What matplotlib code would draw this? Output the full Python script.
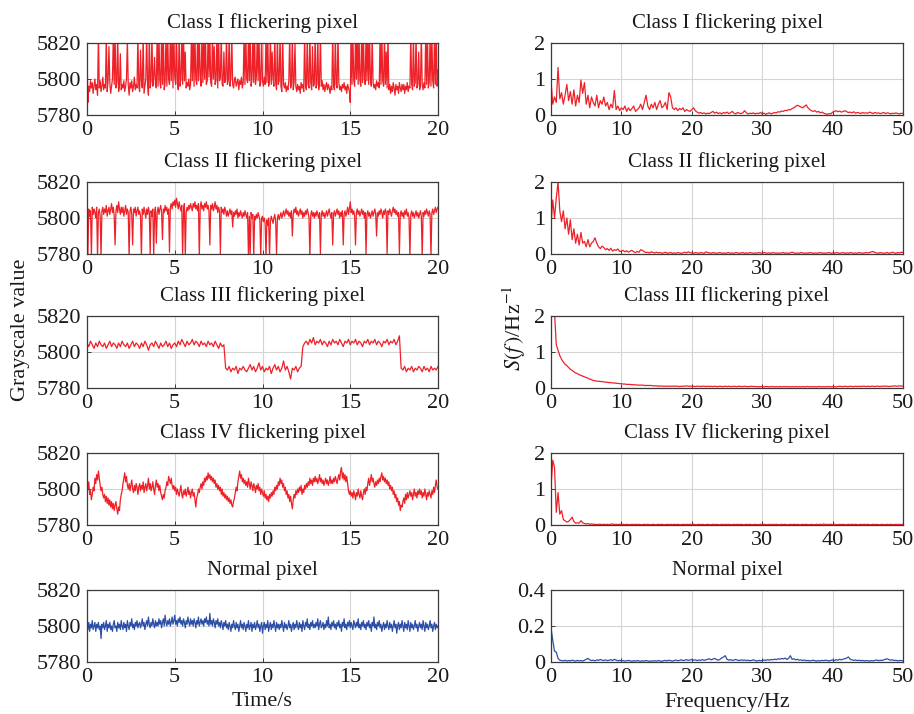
import numpy as np
import matplotlib
matplotlib.use('Agg')
import matplotlib.pyplot as plt

plt.rcParams['font.family'] = ['Liberation Serif', 'DejaVu Serif']
plt.rcParams['mathtext.fontset'] = 'stix'

# ---------------- data ----------------
titles = ["Class I flickering pixel", "Class II flickering pixel", "Class III flickering pixel",
          "Class IV flickering pixel", "Normal pixel"]

# grayscale samples, 0-20 s (one row per second)
time_class1 = [
    5815, 5787, 5796, 5793, 5799, 5795, 5798, 5792, 5796, 5800, 5794, 5797, 5791, 5825, 5795, 5799, 5793, 5796, 5801, 5794,
    5797, 5795, 5825, 5793, 5799, 5818, 5798, 5792, 5796, 5800, 5825, 5797, 5825, 5795, 5798, 5825, 5793, 5796, 5814, 5794,
    5797, 5795, 5799, 5793, 5796, 5800, 5822, 5797, 5791, 5798, 5795, 5799, 5793, 5796, 5801, 5794, 5797, 5795, 5825, 5796,
    5793, 5816, 5799, 5795, 5825, 5792, 5796, 5800, 5825, 5797, 5791, 5825, 5795, 5799, 5825, 5796, 5801, 5812, 5797, 5795,
    5825, 5796, 5825, 5799, 5795, 5825, 5797, 5825, 5794, 5798, 5825, 5796, 5825, 5800, 5797, 5825, 5799, 5825, 5795, 5825,
    5801, 5797, 5825, 5798, 5794, 5825, 5796, 5800, 5825, 5797, 5825, 5799, 5815, 5795, 5798, 5796, 5800, 5794, 5797, 5825,
    5799, 5825, 5796, 5825, 5800, 5797, 5825, 5799, 5825, 5801, 5796, 5825, 5798, 5825, 5800, 5825, 5797, 5799, 5825, 5801,
    5825, 5798, 5796, 5825, 5800, 5818, 5797, 5799, 5825, 5795, 5825, 5799, 5801, 5825, 5797, 5796, 5815, 5798, 5800, 5825,
    5797, 5799, 5825, 5796, 5801, 5825, 5797, 5795, 5799, 5801, 5796, 5798, 5800, 5794, 5799, 5797, 5801, 5795, 5798, 5825,
    5797, 5825, 5800, 5798, 5825, 5799, 5825, 5796, 5800, 5825, 5798, 5825, 5797, 5801, 5825, 5799, 5825, 5796, 5798, 5825,
    5799, 5796, 5801, 5797, 5825, 5798, 5825, 5796, 5799, 5825, 5797, 5815, 5800, 5796, 5825, 5798, 5794, 5825, 5797, 5799,
    5825, 5796, 5793, 5825, 5797, 5795, 5798, 5793, 5796, 5794, 5799, 5825, 5795, 5797, 5825, 5794, 5798, 5820, 5796, 5793,
    5797, 5794, 5796, 5792, 5798, 5795, 5797, 5793, 5825, 5796, 5794, 5825, 5797, 5795, 5825, 5798, 5794, 5818, 5796, 5797,
    5825, 5795, 5797, 5825, 5794, 5798, 5825, 5796, 5799, 5794, 5797, 5793, 5796, 5798, 5794, 5797, 5795, 5792, 5796, 5794,
    5825, 5796, 5794, 5825, 5797, 5795, 5825, 5798, 5794, 5796, 5793, 5797, 5795, 5798, 5794, 5796, 5792, 5797, 5795, 5793,
    5787, 5825, 5797, 5825, 5799, 5796, 5825, 5800, 5825, 5797, 5825, 5799, 5796, 5825, 5798, 5825, 5800, 5797, 5825, 5799,
    5825, 5797, 5825, 5800, 5796, 5825, 5798, 5795, 5797, 5794, 5799, 5796, 5798, 5795, 5825, 5797, 5825, 5799, 5796, 5825,
    5797, 5815, 5795, 5825, 5794, 5797, 5792, 5796, 5793, 5798, 5795, 5791, 5797, 5794, 5796, 5792, 5798, 5795, 5793, 5797,
    5794, 5797, 5792, 5796, 5794, 5798, 5793, 5796, 5795, 5825, 5797, 5794, 5825, 5796, 5798, 5825, 5795, 5797, 5815, 5794,
    5796, 5825, 5797, 5794, 5798, 5795, 5825, 5797, 5825, 5795, 5798, 5825, 5796, 5825, 5799, 5795, 5825, 5797, 5825, 5796,
    5805]

time_class2 = [
    5793, 5780, 5805, 5801, 5804, 5778, 5806, 5802, 5805, 5803, 5800, 5806, 5778, 5803, 5805, 5801, 5778, 5804, 5806, 5802,
    5805, 5803, 5807, 5801, 5804, 5806, 5802, 5805, 5808, 5803, 5806, 5801, 5785, 5804, 5807, 5803, 5809, 5805, 5802, 5806,
    5803, 5806, 5801, 5804, 5807, 5802, 5805, 5803, 5778, 5804, 5806, 5802, 5785, 5805, 5803, 5806, 5801, 5804, 5806, 5802,
    5804, 5801, 5778, 5805, 5802, 5806, 5803, 5800, 5805, 5802, 5806, 5803, 5780, 5804, 5801, 5805, 5778, 5803, 5806, 5786,
    5803, 5806, 5802, 5805, 5807, 5803, 5788, 5805, 5803, 5807, 5804, 5806, 5802, 5805, 5781, 5806, 5808, 5805, 5809, 5807,
    5810, 5806, 5811, 5808, 5805, 5809, 5806, 5804, 5807, 5778, 5805, 5808, 5778, 5803, 5806, 5804, 5807, 5805, 5808, 5806,
    5804, 5808, 5806, 5809, 5805, 5807, 5804, 5808, 5778, 5806, 5809, 5805, 5807, 5804, 5808, 5806, 5809, 5805, 5807, 5804,
    5785, 5807, 5805, 5808, 5804, 5806, 5809, 5805, 5807, 5803, 5806, 5804, 5780, 5806, 5803, 5805, 5802, 5806, 5804, 5801,
    5804, 5801, 5803, 5805, 5802, 5804, 5795, 5803, 5801, 5804, 5802, 5805, 5800, 5803, 5801, 5804, 5802, 5800, 5803, 5801,
    5804, 5802, 5800, 5803, 5778, 5801, 5780, 5803, 5800, 5802, 5778, 5801, 5799, 5802, 5800, 5803, 5801, 5799, 5778, 5800,
    5801, 5798, 5800, 5797, 5778, 5799, 5796, 5800, 5778, 5798, 5801, 5799, 5797, 5800, 5802, 5798, 5780, 5800, 5802, 5799,
    5801, 5803, 5800, 5802, 5804, 5801, 5803, 5805, 5802, 5804, 5801, 5803, 5800, 5804, 5790, 5802, 5805, 5803, 5806, 5802,
    5804, 5801, 5803, 5805, 5802, 5804, 5800, 5803, 5801, 5804, 5802, 5805, 5803, 5800, 5778, 5802, 5804, 5801, 5803, 5800,
    5803, 5801, 5804, 5802, 5800, 5803, 5780, 5802, 5804, 5801, 5803, 5800, 5802, 5804, 5801, 5803, 5805, 5802, 5800, 5803,
    5785, 5802, 5804, 5801, 5803, 5805, 5802, 5804, 5800, 5803, 5801, 5804, 5785, 5802, 5804, 5801, 5803, 5806, 5802, 5805,
    5809, 5803, 5805, 5802, 5804, 5801, 5785, 5803, 5805, 5802, 5804, 5801, 5803, 5805, 5802, 5804, 5800, 5803, 5780, 5802,
    5804, 5801, 5803, 5800, 5802, 5804, 5801, 5803, 5805, 5802, 5790, 5803, 5801, 5804, 5802, 5805, 5803, 5800, 5804, 5802,
    5805, 5803, 5780, 5804, 5802, 5805, 5803, 5801, 5804, 5806, 5803, 5805, 5802, 5804, 5801, 5803, 5780, 5802, 5804, 5801,
    5803, 5800, 5804, 5802, 5805, 5801, 5803, 5800, 5778, 5802, 5804, 5801, 5803, 5800, 5802, 5804, 5801, 5803, 5800, 5802,
    5804, 5801, 5778, 5803, 5801, 5804, 5802, 5805, 5803, 5801, 5804, 5802, 5778, 5803, 5805, 5802, 5804, 5806, 5803, 5805,
    5806]

time_class3 = [
    5805, 5803, 5806, 5804, 5802, 5805, 5803, 5806, 5804, 5803,
    5805, 5802, 5804, 5806, 5803, 5805, 5804, 5802, 5805, 5803,
    5806, 5804, 5803, 5805, 5802, 5804, 5806, 5803, 5805, 5804,
    5802, 5805, 5803, 5806, 5804, 5801, 5804, 5805, 5803, 5806,
    5804, 5802, 5805, 5803, 5804, 5806, 5803, 5805, 5802, 5804,
    5805, 5803, 5806, 5804, 5807, 5805, 5803, 5806, 5804, 5805,
    5807, 5804, 5806, 5805, 5803, 5806, 5804, 5805, 5803, 5806,
    5804, 5805, 5803, 5806, 5804, 5802, 5805, 5803, 5804, 5791,
    5790, 5792, 5789, 5791, 5790, 5792, 5788, 5791, 5790, 5792,
    5790, 5789, 5791, 5793, 5790, 5792, 5789, 5791, 5794, 5790,
    5792, 5789, 5791, 5790, 5792, 5788, 5791, 5793, 5790, 5792,
    5789, 5791, 5795, 5790, 5792, 5789, 5785, 5791, 5790, 5792,
    5789, 5791, 5792, 5803, 5805, 5806, 5804, 5807, 5805, 5808,
    5804, 5806, 5805, 5807, 5804, 5806, 5805, 5803, 5806, 5804,
    5807, 5805, 5806, 5804, 5807, 5805, 5803, 5806, 5805, 5807,
    5804, 5806, 5805, 5807, 5804, 5806, 5805, 5803, 5806, 5805,
    5807, 5804, 5806, 5805, 5807, 5804, 5806, 5805, 5803, 5806,
    5805, 5807, 5804, 5806, 5805, 5807, 5804, 5806, 5809, 5791,
    5790, 5792, 5789, 5791, 5790, 5792, 5789, 5791, 5790, 5792,
    5791, 5789, 5792, 5790, 5791, 5789, 5792, 5790, 5791, 5790,
    5792]

time_class4 = [
    5803, 5800, 5804, 5797, 5799, 5794, 5797, 5801, 5799, 5806, 5803, 5808, 5805, 5810, 5806, 5802, 5799, 5801, 5797, 5795,
    5797, 5793, 5796, 5792, 5795, 5791, 5794, 5790, 5793, 5789, 5792, 5788, 5791, 5793, 5789, 5786, 5790, 5788, 5794, 5797,
    5799, 5803, 5806, 5809, 5804, 5807, 5802, 5800, 5803, 5799, 5802, 5805, 5800, 5798, 5802, 5799, 5803, 5801, 5797, 5801,
    5803, 5799, 5802, 5800, 5804, 5798, 5801, 5803, 5799, 5802, 5806, 5800, 5803, 5799, 5801, 5804, 5800, 5797, 5802, 5805,
    5801, 5803, 5799, 5802, 5798, 5796, 5794, 5797, 5795, 5799, 5801, 5804, 5802, 5807, 5805, 5803, 5806, 5802, 5800, 5802,
    5799, 5801, 5797, 5800, 5798, 5796, 5799, 5802, 5797, 5795, 5799, 5797, 5800, 5796, 5798, 5801, 5797, 5799, 5795, 5798,
    5800, 5796, 5798, 5794, 5790, 5795, 5797, 5800, 5798, 5801, 5803, 5800, 5804, 5802, 5806, 5804, 5807, 5805, 5809, 5806,
    5808, 5805, 5807, 5804, 5806, 5803, 5805, 5801, 5803, 5800, 5802, 5799, 5801, 5797, 5800, 5796, 5798, 5795, 5797, 5794,
    5796, 5793, 5795, 5792, 5794, 5791, 5790, 5793, 5795, 5798, 5801, 5799, 5804, 5807, 5810, 5806, 5808, 5804, 5806, 5803,
    5805, 5802, 5804, 5801, 5806, 5803, 5800, 5804, 5802, 5799, 5803, 5801, 5798, 5802, 5800, 5803, 5799, 5801, 5797, 5800,
    5798, 5796, 5799, 5795, 5797, 5794, 5796, 5793, 5797, 5795, 5798, 5796, 5799, 5797, 5801, 5799, 5802, 5800, 5804, 5802,
    5806, 5803, 5805, 5801, 5803, 5799, 5801, 5797, 5799, 5795, 5797, 5793, 5796, 5792, 5789, 5794, 5797, 5795, 5799, 5797,
    5800, 5798, 5801, 5799, 5802, 5797, 5800, 5798, 5802, 5800, 5803, 5801, 5804, 5802, 5806, 5803, 5805, 5802, 5806, 5804,
    5807, 5804, 5806, 5803, 5805, 5808, 5804, 5806, 5803, 5805, 5802, 5804, 5806, 5803, 5805, 5802, 5804, 5807, 5803, 5805,
    5803, 5806, 5804, 5807, 5805, 5803, 5806, 5808, 5805, 5810, 5812, 5806, 5809, 5805, 5808, 5804, 5807, 5803, 5799, 5797,
    5799, 5796, 5798, 5795, 5799, 5797, 5794, 5798, 5796, 5800, 5797, 5795, 5799, 5796, 5794, 5798, 5800, 5797, 5801, 5799,
    5803, 5806, 5802, 5805, 5808, 5804, 5806, 5803, 5801, 5804, 5802, 5805, 5803, 5806, 5804, 5807, 5809, 5805, 5807, 5804,
    5806, 5803, 5805, 5802, 5804, 5800, 5802, 5799, 5801, 5797, 5799, 5795, 5797, 5793, 5795, 5791, 5793, 5788, 5791, 5790,
    5793, 5795, 5792, 5797, 5794, 5798, 5795, 5797, 5799, 5796, 5798, 5794, 5797, 5800, 5796, 5798, 5795, 5799, 5797, 5800,
    5797, 5799, 5795, 5798, 5796, 5800, 5797, 5794, 5798, 5796, 5799, 5797, 5795, 5799, 5797, 5801, 5798, 5802, 5805, 5801,
    5800]

time_normal = [
    5800, 5798, 5802, 5797, 5801, 5799, 5803, 5798, 5800, 5802, 5797, 5801, 5799, 5802, 5798, 5800, 5793, 5801, 5799, 5802,
    5798, 5800, 5803, 5797, 5801, 5799, 5802, 5798, 5800, 5797, 5801, 5803, 5799, 5800, 5797, 5802, 5799, 5801, 5798, 5803,
    5800, 5798, 5802, 5799, 5801, 5797, 5803, 5800, 5798, 5802, 5800, 5804, 5799, 5801, 5798, 5802, 5800, 5803, 5799, 5801,
    5802, 5799, 5801, 5804, 5800, 5802, 5798, 5801, 5803, 5800, 5805, 5801, 5799, 5802, 5800, 5804, 5801, 5799, 5803, 5800,
    5802, 5800, 5804, 5801, 5803, 5799, 5802, 5804, 5800, 5806, 5802, 5800, 5803, 5801, 5804, 5800, 5802, 5805, 5801, 5803,
    5806, 5801, 5803, 5800, 5804, 5802, 5805, 5801, 5803, 5800, 5804, 5802, 5799, 5803, 5801, 5805, 5802, 5800, 5804, 5801,
    5803, 5800, 5804, 5802, 5799, 5803, 5801, 5805, 5800, 5802, 5804, 5801, 5803, 5800, 5804, 5802, 5805, 5801, 5803, 5800,
    5807, 5801, 5803, 5800, 5804, 5802, 5799, 5803, 5801, 5804, 5800, 5802, 5799, 5803, 5801, 5798, 5802, 5800, 5803, 5799,
    5801, 5798, 5802, 5800, 5797, 5801, 5799, 5803, 5800, 5798, 5802, 5799, 5801, 5797, 5800, 5803, 5799, 5801, 5798, 5802,
    5800, 5797, 5801, 5799, 5803, 5798, 5800, 5802, 5797, 5801, 5799, 5802, 5798, 5800, 5803, 5799, 5801, 5797, 5800, 5802,
    5796, 5800, 5802, 5798, 5801, 5799, 5803, 5797, 5800, 5802, 5798, 5801, 5799, 5803, 5800, 5797, 5802, 5799, 5801, 5798,
    5801, 5799, 5803, 5800, 5797, 5802, 5799, 5801, 5798, 5800, 5803, 5799, 5801, 5797, 5800, 5802, 5798, 5801, 5799, 5803,
    5800, 5798, 5802, 5799, 5801, 5797, 5803, 5800, 5798, 5802, 5800, 5804, 5799, 5801, 5798, 5802, 5800, 5803, 5799, 5801,
    5799, 5802, 5800, 5804, 5798, 5801, 5803, 5799, 5800, 5802, 5798, 5801, 5799, 5803, 5800, 5805, 5799, 5801, 5798, 5802,
    5800, 5803, 5799, 5801, 5798, 5802, 5800, 5803, 5799, 5801, 5797, 5802, 5800, 5804, 5799, 5801, 5798, 5802, 5800, 5803,
    5799, 5802, 5800, 5798, 5803, 5801, 5799, 5802, 5800, 5804, 5799, 5801, 5798, 5802, 5800, 5803, 5799, 5801, 5798, 5802,
    5800, 5803, 5799, 5801, 5797, 5802, 5800, 5805, 5799, 5801, 5798, 5802, 5800, 5803, 5799, 5801, 5797, 5800, 5802, 5798,
    5801, 5799, 5803, 5800, 5798, 5802, 5799, 5801, 5797, 5800, 5803, 5799, 5801, 5796, 5800, 5802, 5798, 5801, 5799, 5803,
    5800, 5797, 5802, 5799, 5801, 5798, 5803, 5800, 5797, 5802, 5799, 5801, 5798, 5800, 5803, 5799, 5801, 5797, 5800, 5802,
    5799, 5801, 5798, 5803, 5800, 5797, 5802, 5799, 5801, 5798, 5800, 5803, 5799, 5801, 5797, 5800, 5802, 5798, 5801, 5799,
    5800]

# power spectra, 0-50 Hz
spec_class1 = [
    0.95, 0.30, 0.50, 0.35, 1.32, 0.45, 0.62, 0.30, 0.55, 0.85,
    0.40, 0.65, 0.30, 0.70, 0.25, 0.55, 0.35, 0.97, 0.60, 0.90,
    0.30, 0.55, 0.20, 0.50, 0.35, 0.25, 0.55, 0.20, 0.40, 0.30,
    0.50, 0.25, 0.35, 0.15, 0.30, 0.20, 0.68, 0.15, 0.25, 0.12,
    0.20, 0.15, 0.25, 0.10, 0.20, 0.12, 0.18, 0.25, 0.10, 0.15,
    0.20, 0.30, 0.15, 0.35, 0.55, 0.25, 0.15, 0.30, 0.20, 0.35,
    0.15, 0.30, 0.40, 0.20, 0.25, 0.35, 0.15, 0.62, 0.50, 0.20,
    0.15, 0.20, 0.12, 0.18, 0.15, 0.20, 0.10, 0.15, 0.12, 0.10,
    0.15, 0.20, 0.12, 0.08, 0.05, 0.07, 0.04, 0.06, 0.03, 0.05,
    0.04, 0.07, 0.10, 0.05, 0.08, 0.04, 0.06, 0.03, 0.07, 0.05,
    0.08, 0.04, 0.06, 0.10, 0.05, 0.03, 0.07, 0.05, 0.04, 0.06,
    0.12, 0.06, 0.03, 0.05, 0.04, 0.06, 0.03, 0.05, 0.04, 0.07,
    0.03, 0.05, 0.02, 0.04, 0.06, 0.03, 0.05, 0.07, 0.06, 0.09,
    0.08, 0.11, 0.10, 0.13, 0.12, 0.15, 0.14, 0.18, 0.20, 0.24,
    0.27, 0.25, 0.22, 0.20, 0.24, 0.28, 0.20, 0.15, 0.12, 0.10,
    0.12, 0.08, 0.10, 0.06, 0.08, 0.05, 0.03, 0.02, 0.04, 0.03,
    0.08, 0.10, 0.12, 0.09, 0.11, 0.08, 0.10, 0.12, 0.09, 0.07,
    0.08, 0.06, 0.09, 0.05, 0.07, 0.06, 0.04, 0.07, 0.05, 0.06,
    0.05, 0.08, 0.06, 0.04, 0.07, 0.05, 0.06, 0.04, 0.05, 0.07,
    0.04, 0.06, 0.05, 0.03, 0.05, 0.04, 0.06, 0.04, 0.03, 0.05,
    0.04]

spec_class2 = [
    0.80, 1.50, 1.00, 1.55, 2.00, 1.20, 0.90, 1.20, 0.70, 1.00,
    0.55, 0.95, 0.40, 0.70, 0.30, 0.55, 0.25, 0.60, 0.30, 0.35,
    0.20, 0.40, 0.20, 0.30, 0.35, 0.45, 0.30, 0.20, 0.15, 0.22,
    0.18, 0.12, 0.15, 0.10, 0.16, 0.08, 0.12, 0.10, 0.14, 0.07,
    0.08, 0.10, 0.06, 0.09, 0.05, 0.08, 0.10, 0.06, 0.04, 0.07,
    0.05, 0.12, 0.10, 0.06, 0.04, 0.05, 0.03, 0.06, 0.04, 0.03,
    0.05, 0.03, 0.04, 0.02, 0.03, 0.05, 0.02, 0.03, 0.04, 0.02,
    0.03, 0.02, 0.04, 0.03, 0.02, 0.03, 0.05, 0.03, 0.06, 0.04,
    0.03, 0.02, 0.04, 0.03, 0.02, 0.04, 0.03, 0.02, 0.06, 0.04,
    0.03, 0.02, 0.04, 0.03, 0.02, 0.03, 0.04, 0.02, 0.03, 0.02,
    0.03, 0.04, 0.02, 0.03, 0.02, 0.04, 0.03, 0.02, 0.03, 0.04,
    0.02, 0.03, 0.02, 0.04, 0.03, 0.02, 0.03, 0.02, 0.04, 0.03,
    0.02, 0.04, 0.03, 0.02, 0.03, 0.02, 0.04, 0.03, 0.02, 0.03,
    0.02, 0.03, 0.04, 0.02, 0.03, 0.02, 0.03, 0.05, 0.03, 0.02,
    0.03, 0.02, 0.04, 0.03, 0.02, 0.03, 0.02, 0.04, 0.03, 0.02,
    0.03, 0.02, 0.03, 0.04, 0.02, 0.03, 0.02, 0.03, 0.04, 0.02,
    0.03, 0.02, 0.04, 0.03, 0.02, 0.03, 0.04, 0.02, 0.03, 0.02,
    0.04, 0.03, 0.02, 0.03, 0.02, 0.04, 0.03, 0.02, 0.03, 0.04,
    0.03, 0.04, 0.06, 0.07, 0.04, 0.03, 0.02, 0.04, 0.03, 0.02,
    0.03, 0.04, 0.02, 0.03, 0.05, 0.03, 0.02, 0.04, 0.03, 0.05,
    0.04]

spec_class3 = [
    2.50, 2.40, 2.10, 1.20, 1.05, 0.90, 0.80, 0.72, 0.66, 0.62,
    0.57, 0.52, 0.49, 0.45, 0.42, 0.40, 0.37, 0.35, 0.33, 0.31,
    0.29, 0.27, 0.25, 0.23, 0.21, 0.20, 0.19, 0.19, 0.18, 0.18,
    0.17, 0.16, 0.16, 0.15, 0.15, 0.14, 0.14, 0.13, 0.13, 0.12,
    0.12, 0.11, 0.11, 0.10, 0.10, 0.10, 0.09, 0.09, 0.09, 0.08,
    0.08, 0.08, 0.08, 0.07, 0.07, 0.07, 0.07, 0.07, 0.06, 0.06,
    0.06, 0.05, 0.06, 0.05, 0.05, 0.05, 0.05, 0.05, 0.05, 0.05,
    0.05, 0.05, 0.05, 0.04, 0.05, 0.05, 0.05, 0.06, 0.05, 0.05,
    0.05, 0.05, 0.04, 0.05, 0.05, 0.04, 0.05, 0.05, 0.04, 0.05,
    0.04, 0.05, 0.04, 0.05, 0.04, 0.04, 0.05, 0.04, 0.04, 0.05,
    0.04, 0.05, 0.04, 0.04, 0.05, 0.04, 0.04, 0.05, 0.04, 0.04,
    0.05, 0.04, 0.04, 0.04, 0.05, 0.04, 0.04, 0.04, 0.03, 0.04,
    0.04, 0.03, 0.04, 0.04, 0.03, 0.04, 0.04, 0.03, 0.04, 0.03,
    0.04, 0.03, 0.04, 0.04, 0.03, 0.04, 0.03, 0.04, 0.03, 0.04,
    0.03, 0.04, 0.03, 0.04, 0.03, 0.04, 0.04, 0.03, 0.04, 0.03,
    0.04, 0.03, 0.04, 0.04, 0.03, 0.04, 0.03, 0.04, 0.04, 0.03,
    0.04, 0.04, 0.03, 0.04, 0.05, 0.04, 0.04, 0.05, 0.04, 0.04,
    0.05, 0.04, 0.04, 0.05, 0.04, 0.05, 0.04, 0.05, 0.05, 0.04,
    0.05, 0.04, 0.05, 0.05, 0.04, 0.05, 0.05, 0.04, 0.05, 0.05,
    0.05, 0.05, 0.04, 0.05, 0.05, 0.06, 0.05, 0.05, 0.06, 0.05,
    0.06]

spec_class4 = [
    1.05, 1.80, 1.60, 0.35, 0.90, 0.30, 0.40, 0.15, 0.12, 0.08,
    0.10, 0.15, 0.22, 0.10, 0.05, 0.06, 0.05, 0.12, 0.06, 0.04,
    0.03, 0.04, 0.02, 0.03, 0.02, 0.02, 0.01, 0.02, 0.02, 0.01,
    0.02, 0.01, 0.02, 0.01, 0.02, 0.03, 0.01, 0.02, 0.01, 0.02,
    0.01, 0.02, 0.01, 0.02, 0.01, 0.01, 0.02, 0.01, 0.02, 0.01,
    0.02, 0.01, 0.01, 0.02, 0.01, 0.02, 0.01, 0.01, 0.02, 0.01,
    0.01, 0.02, 0.01, 0.02, 0.01, 0.01, 0.02, 0.01, 0.02, 0.01,
    0.02, 0.01, 0.02, 0.01, 0.01, 0.02, 0.01, 0.02, 0.01, 0.02,
    0.01, 0.02, 0.01, 0.01, 0.02, 0.01, 0.02, 0.01, 0.01, 0.02,
    0.01, 0.01, 0.02, 0.01, 0.02, 0.01, 0.01, 0.02, 0.01, 0.02,
    0.01, 0.02, 0.01, 0.01, 0.02, 0.01, 0.02, 0.01, 0.02, 0.01,
    0.01, 0.02, 0.01, 0.02, 0.01, 0.01, 0.02, 0.01, 0.01, 0.02,
    0.01, 0.02, 0.01, 0.01, 0.02, 0.01, 0.02, 0.01, 0.02, 0.01,
    0.01, 0.02, 0.01, 0.02, 0.01, 0.01, 0.02, 0.01, 0.02, 0.01,
    0.02, 0.01, 0.01, 0.02, 0.01, 0.02, 0.01, 0.01, 0.02, 0.01,
    0.01, 0.02, 0.01, 0.02, 0.01, 0.03, 0.01, 0.02, 0.01, 0.02,
    0.01, 0.02, 0.01, 0.01, 0.02, 0.01, 0.02, 0.01, 0.01, 0.02,
    0.01, 0.02, 0.01, 0.02, 0.01, 0.01, 0.02, 0.01, 0.02, 0.01,
    0.02, 0.01, 0.01, 0.02, 0.01, 0.02, 0.01, 0.01, 0.02, 0.01,
    0.01, 0.02, 0.01, 0.02, 0.01, 0.01, 0.02, 0.01, 0.02, 0.01,
    0.02]

spec_normal = [
    0.190, 0.120, 0.060, 0.055, 0.020, 0.010, 0.008, 0.006, 0.010, 0.005,
    0.008, 0.006, 0.010, 0.007, 0.005, 0.009, 0.006, 0.008, 0.005, 0.010,
    0.015, 0.020, 0.012, 0.008, 0.010, 0.006, 0.012, 0.009, 0.014, 0.010,
    0.008, 0.012, 0.007, 0.010, 0.013, 0.008, 0.015, 0.010, 0.007, 0.009,
    0.006, 0.008, 0.005, 0.007, 0.009, 0.006, 0.004, 0.007, 0.005, 0.008,
    0.006, 0.004, 0.007, 0.005, 0.008, 0.006, 0.004, 0.006, 0.005, 0.007,
    0.005, 0.008, 0.006, 0.004, 0.007, 0.009, 0.006, 0.010, 0.007, 0.005,
    0.008, 0.011, 0.007, 0.009, 0.012, 0.008, 0.010, 0.013, 0.009, 0.011,
    0.014, 0.010, 0.012, 0.008, 0.011, 0.009, 0.013, 0.010, 0.012, 0.015,
    0.018, 0.012, 0.016, 0.020, 0.014, 0.010, 0.015, 0.022, 0.028, 0.035,
    0.015, 0.010, 0.013, 0.009, 0.011, 0.014, 0.010, 0.008, 0.012, 0.009,
    0.011, 0.008, 0.010, 0.007, 0.009, 0.012, 0.008, 0.006, 0.009, 0.007,
    0.008, 0.011, 0.009, 0.013, 0.010, 0.014, 0.012, 0.016, 0.013, 0.018,
    0.015, 0.020, 0.017, 0.022, 0.014, 0.020, 0.035, 0.015, 0.018, 0.012,
    0.015, 0.010, 0.012, 0.008, 0.011, 0.007, 0.009, 0.006, 0.008, 0.010,
    0.007, 0.005, 0.008, 0.006, 0.009, 0.007, 0.010, 0.008, 0.006, 0.009,
    0.011, 0.008, 0.013, 0.010, 0.015, 0.012, 0.016, 0.018, 0.022, 0.028,
    0.015, 0.012, 0.009, 0.011, 0.008, 0.010, 0.007, 0.009, 0.006, 0.008,
    0.007, 0.005, 0.008, 0.006, 0.009, 0.011, 0.007, 0.010, 0.008, 0.012,
    0.015, 0.018, 0.013, 0.010, 0.012, 0.008, 0.010, 0.006, 0.009, 0.007,
    0.008]

time_series = [time_class1, time_class2, time_class3, time_class4, time_normal]
spectra = [spec_class1, spec_class2, spec_class3, spec_class4, spec_normal]

time_xlim = (0, 20)
time_xticks = [0, 5, 10, 15, 20]
time_yticks = [5780, 5800, 5820]
freq_xlim = (0, 50)
freq_xticks = [0, 10, 20, 30, 40, 50]
spec_yticks = [[0, 1, 2], [0, 1, 2], [0, 1, 2], [0, 1, 2], [0, 0.2, 0.4]]
spec_yticklabels = [["0", "1", "2"]] * 4 + [["0", "0.2", "0.4"]]

RED = '#ee2128'
BLUE = '#2b4ea6'
colors = [RED, RED, RED, RED, BLUE]

# ---------------- layout ----------------
W, H = 914, 714
fig = plt.figure(figsize=(W / 100, H / 100), dpi=100)

row_tops = [43, 182, 316, 453, 590]
ax_h = 72
left_x0, left_x1 = 87, 438
right_x0, right_x1 = 551, 903
TITLE_FS = 15
TICK_FS = 16
LABEL_FS = 16
TXT = '#1a1a1a'


def style(ax):
    for s in ax.spines.values():
        s.set_color('#3a3a3a')
        s.set_linewidth(0.9)
    ax.grid(True, color='#d4d4d4', linewidth=0.8)
    ax.set_axisbelow(True)
    ax.tick_params(direction='in', length=3, width=0.7, colors='#3a3a3a',
                   labelsize=TICK_FS, labelcolor=TXT, pad=4)


for r in range(5):
    top = row_tops[r]
    bottom = 1 - (top + ax_h) / H
    h = ax_h / H
    # time-domain panel
    axl = fig.add_axes([left_x0 / W, bottom, (left_x1 - left_x0) / W, h])
    ts = np.asarray(time_series[r], dtype=float)
    t = np.linspace(time_xlim[0], time_xlim[1], len(ts))
    axl.plot(t, ts, color=colors[r], lw=0.9)
    axl.set_xlim(*time_xlim)
    axl.set_ylim(5780, 5820)
    axl.set_xticks(time_xticks)
    axl.set_yticks(time_yticks)
    style(axl)
    axl.set_title(titles[r], fontsize=TITLE_FS, pad=11, color=TXT)

    # frequency-domain panel
    axr = fig.add_axes([right_x0 / W, bottom, (right_x1 - right_x0) / W, h])
    sp = np.asarray(spectra[r], dtype=float)
    f = np.linspace(freq_xlim[0], freq_xlim[1], len(sp))
    axr.plot(f, sp, color=colors[r], lw=0.9)
    axr.set_xlim(*freq_xlim)
    axr.set_ylim(spec_yticks[r][0], spec_yticks[r][-1])
    axr.set_xticks(freq_xticks)
    axr.set_yticks(spec_yticks[r])
    axr.set_yticklabels(spec_yticklabels[r])
    style(axr)
    axr.set_title(titles[r], fontsize=TITLE_FS, pad=11, color=TXT)

fig.text(21 / W, 1 - 330 / H, "Grayscale value", rotation=90, ha='center', va='center',
         fontsize=LABEL_FS, color=TXT)
fig.text(514 / W, 1 - 328 / H, r"$S(f\,)$/Hz$^{-1}$", rotation=90, ha='center', va='center',
         fontsize=LABEL_FS, color=TXT)
fig.text((left_x0 + left_x1) / 2 / W, 1 - 702 / H, "Time/s", ha='center', va='center',
         fontsize=LABEL_FS, color=TXT)
fig.text((right_x0 + right_x1) / 2 / W, 1 - 702 / H, "Frequency/Hz", ha='center', va='center',
         fontsize=LABEL_FS, color=TXT)

fig.savefig('out.png', dpi=100)
